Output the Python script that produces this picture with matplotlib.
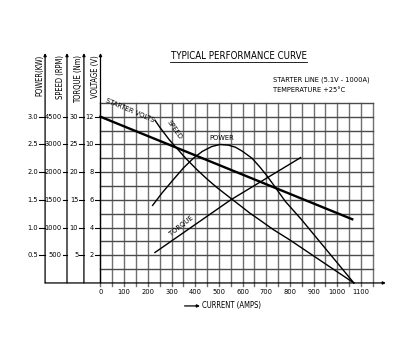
import matplotlib
matplotlib.use("Agg")
import matplotlib.pyplot as plt

# ---- data (current in A, every curve in volt-axis units) ----
starter_amps = [0, 1063]
starter_volts = [12.0, 4.6]

speed_amps = [230, 250, 270, 290, 315, 360, 406, 450, 491, 551, 589, 630,
              668, 730, 800, 900, 1000, 1070]
speed_vals = [11.75, 11.25, 10.8, 10.35, 9.86, 9.0, 8.2, 7.5, 6.9, 6.1,
              5.6, 5.05, 4.6, 3.85, 3.1, 1.95, 0.8, 0.0]

power_amps = [220, 260, 307, 350, 392, 430, 470, 505, 540, 570, 600, 640,
              674, 700, 730, 780, 850, 920, 1000, 1070]
power_vals = [5.6, 6.5, 7.45, 8.3, 9.0, 9.5, 9.85, 10.0, 9.95, 9.8, 9.5,
              9.0, 8.35, 7.8, 7.1, 5.9, 4.55, 3.1, 1.45, 0.0]

torque_amps = [230, 550, 845]
torque_vals = [2.2, 6.0, 9.05]

# left scales, all placed on the volt positions
volt_pos = [2, 4, 6, 8, 10, 12]
power_labels = ["0.5", "1.0", "1.5", "2.0", "2.5", "3.0"]
speed_labels = ["500", "1000", "1500", "2000", "3000", "4500"]
torque_labels = ["5", "10", "15", "20", "25", "30"]
volt_labels = ["2", "4", "6", "8", "10", "12"]
current_ticks = [0, 100, 200, 300, 400, 500, 600, 700, 800, 900, 1000, 1100]

FONT = dict(family="DejaVu Sans", fontstretch="condensed")

fig = plt.figure(figsize=(4.10, 3.54), dpi=100)
ax = fig.add_axes([0, 0, 1, 1])
ax.set_xlim(-424.4, 1307)
ax.set_ylim(-5.13, 20.43)
ax.axis("off")

# grid
for a in range(0, 1151, 50):
    ax.plot([a, a], [-0.25, 13], color="#707070", lw=1.0, zorder=1)
for v in range(1, 14):
    ax.plot([0, 1150], [v, v], color="#4a4a4a", lw=1.0, zorder=1)

# x axis with arrow
ax.annotate("", xy=(1205, 0), xytext=(-234, 0),
            arrowprops=dict(arrowstyle="-|>", color="black", lw=0.9,
                            mutation_scale=4, shrinkA=0, shrinkB=0))

# four vertical scales
axis_x = [-234, -141.5, -70, 0]
for xa in axis_x:
    ax.annotate("", xy=(xa, 16.6), xytext=(xa, 0),
                arrowprops=dict(arrowstyle="-|>", color="black", lw=0.9,
                                mutation_scale=4, shrinkA=0, shrinkB=0))

scales = [
    (power_labels, -264, (-260, -234)),
    (speed_labels, -164, (-160, -141.5)),
    (torque_labels, -94, (-90, -70)),
    (volt_labels, -28, (-24, 0)),
]
for labels, xt, (d0, d1) in scales:
    for v, lab in zip(volt_pos, labels):
        ax.plot([d0, d1], [v, v], color="black", lw=0.8)
        ax.text(xt, v, lab, ha="right", va="center", fontsize=5.3, **FONT)

axis_titles = [("POWER(KW)", -257), ("SPEED (RPM)", -167),
               ("TORQUE (Nm)", -91), ("VOLTAGE (V)", -23)]
for t, xt in axis_titles:
    ax.text(xt, 16.45, t, rotation=90, ha="center", va="top",
            fontsize=5.5, **FONT)

# current tick labels
for c in current_ticks:
    ax.text(c, -0.65, str(c), ha="center", va="center", fontsize=5.3, **FONT)
ax.annotate("", xy=(420, -1.66), xytext=(355, -1.66),
            arrowprops=dict(arrowstyle="-|>", color="black", lw=0.9,
                            mutation_scale=4, shrinkA=0, shrinkB=0))
ax.text(428, -1.66, "CURRENT (AMPS)", ha="left", va="center",
        fontsize=5.5, **FONT)

# curves
ax.plot(starter_amps, starter_volts, color="black", lw=1.7, zorder=3)
ax.plot(speed_amps, speed_vals, color="black", lw=1.0, zorder=3)
ax.plot(power_amps, power_vals, color="black", lw=1.0, zorder=3)
ax.plot(torque_amps, torque_vals, color="black", lw=1.0, zorder=3)

ax.text(125, 12.45, "STARTER VOLTS", rotation=-23, ha="center", va="center",
        fontsize=5.4, zorder=4, **FONT)
ax.text(312, 11.05, "SPEED", rotation=-55, ha="center", va="center",
        fontsize=5.4, zorder=4, **FONT)
ax.text(511, 10.45, "POWER", ha="center", va="center", fontsize=5.4,
        zorder=4, **FONT)
ax.text(342, 4.1, "TORQUE", rotation=38, ha="center", va="center",
        fontsize=5.4, zorder=4, **FONT)

# header texts
ax.text(583, 16.2, "TYPICAL PERFORMANCE CURVE", ha="center",
        va="baseline", fontsize=6.9, **FONT)
ax.plot([295, 870], [15.95, 15.95], color="black", lw=0.6)
ax.text(728, 14.65, "STARTER LINE (5.1V - 1000A)", ha="left", va="center",
        fontsize=5.3, **FONT)
ax.text(728, 13.9, "TEMPERATURE +25\u00b0C", ha="left", va="center",
        fontsize=5.3, **FONT)

fig.savefig("out.png", dpi=100, facecolor="white")
